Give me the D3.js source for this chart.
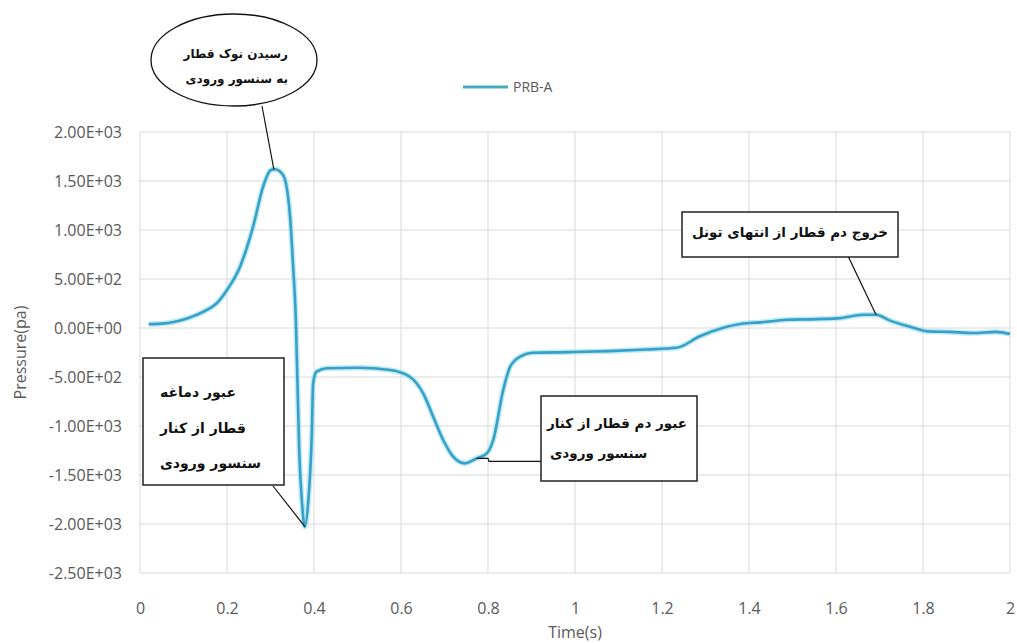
<!DOCTYPE html>
<html><head><meta charset="utf-8">
<script src="https://cdn.jsdelivr.net/npm/d3@7"></script>
<style>
html,body{margin:0;padding:0;background:#fff;}
svg{display:block;}
.tick-label{font-family:"Open Sans",sans-serif;font-size:16px;fill:#595959;}
.ann{font-family:"DejaVu Sans",sans-serif;font-weight:bold;fill:#111;}
</style></head>
<body>
<svg id="chart" width="1017" height="643"></svg>
<script>
const times = [0.02, 0.05, 0.08, 0.11, 0.146, 0.18, 0.2, 0.23, 0.26, 0.283, 0.3, 0.31, 0.329, 0.345, 0.352, 0.358, 0.362, 0.366, 0.372, 0.379, 0.387, 0.395, 0.398, 0.406, 0.43, 0.5, 0.575, 0.62, 0.651, 0.674, 0.697, 0.72, 0.747, 0.774, 0.797, 0.812, 0.835, 0.851, 0.876, 0.902, 0.99, 1.077, 1.164, 1.234, 1.287, 1.339, 1.383, 1.426, 1.487, 1.557, 1.61, 1.662, 1.692, 1.723, 1.767, 1.811, 1.863, 1.915, 1.968, 2.0];
const pressure = [40, 45, 64, 100, 166, 270, 388, 626, 1034, 1442, 1610, 1620, 1561, 1136, 626, 116, -564, -1245, -1755, -2027, -1755, -1075, -564, -446, -411, -405, -429, -497, -667, -905, -1143, -1313, -1381, -1330, -1279, -1143, -633, -395, -287, -253, -246, -236, -219, -202, -84, 0, 44, 57, 84, 91, 101, 135, 135, 78, 17, -34, -40, -51, -40, -61];
const seriesName = "PRB-A";
const xTicks = [0, 0.2, 0.4, 0.6, 0.8, 1, 1.2, 1.4, 1.6, 1.8, 2];
const xTickLabels = ["0", "0.2", "0.4", "0.6", "0.8", "1", "1.2", "1.4", "1.6", "1.8", "2"];
const yTicks = [2000, 1500, 1000, 500, 0, -500, -1000, -1500, -2000, -2500];
const yTickLabels = ["2.00E+03", "1.50E+03", "1.00E+03", "5.00E+02", "0.00E+00", "-5.00E+02", "-1.00E+03", "-1.50E+03", "-2.00E+03", "-2.50E+03"];
const xTitle = "Time(s)";
const yTitle = "Pressure(pa)";

const svg = d3.select("#chart");
const m = {l:140, r:7, t:132, b:70};
const W = 1017, H = 643;
const x = d3.scaleLinear().domain([0, 2]).range([m.l, W - m.r]);
const y = d3.scaleLinear().domain([-2500, 2000]).range([H - m.b, m.t]);

// grid
const grid = svg.append("g");
grid.selectAll("line.h").data(yTicks).join("line")
  .attr("x1", m.l).attr("x2", W - m.r)
  .attr("y1", d => y(d)).attr("y2", d => y(d))
  .attr("stroke", "#d9d9d9").attr("stroke-width", 1);
grid.selectAll("line.v").data(xTicks).join("line")
  .attr("y1", m.t).attr("y2", H - m.b)
  .attr("x1", d => x(d)).attr("x2", d => x(d))
  .attr("stroke", "#d9d9d9").attr("stroke-width", 1);

// axes (text only, via d3 axis)
const yAxis = d3.axisLeft(y).tickValues(yTicks).tickSize(0).tickPadding(18)
  .tickFormat((d, i) => yTickLabels[i]);
const gy = svg.append("g").attr("transform", `translate(${m.l},0)`).call(yAxis);
gy.select(".domain").remove();
gy.selectAll("text").attr("class", "tick-label").attr("fill", null);

const xAxis = d3.axisBottom(x).tickValues(xTicks).tickSize(0).tickPadding(30)
  .tickFormat((d, i) => xTickLabels[i]);
const gx = svg.append("g").attr("transform", `translate(0,${H - m.b})`).call(xAxis);
gx.select(".domain").remove();
gx.selectAll("text").attr("class", "tick-label").attr("fill", null);

svg.append("text").attr("class", "tick-label")
  .attr("x", (m.l + W - m.r) / 2).attr("y", 638).attr("text-anchor", "middle").text(xTitle);
svg.append("text").attr("class", "tick-label")
  .attr("transform", `translate(26,${(m.t + H - m.b) / 2}) rotate(-90)`)
  .attr("text-anchor", "middle").text(yTitle);

// series
const data = times.map((t, i) => ({t, v: pressure[i]}));
const line = d3.line().x(d => x(d.t)).y(d => y(d.v)).curve(d3.curveMonotoneX);
svg.append("path").datum(data).attr("d", line).attr("fill", "none")
  .attr("stroke", "#9fe3f5").attr("stroke-width", 5.5).attr("stroke-opacity", 0.7)
  .attr("stroke-linejoin", "round");
svg.append("path").datum(data).attr("d", line).attr("fill", "none")
  .attr("stroke", "#3a9fc4").attr("stroke-width", 2.6).attr("stroke-linejoin", "round");

// legend
svg.append("line").attr("x1", 463).attr("x2", 508).attr("y1", 87).attr("y2", 87)
  .attr("stroke", "#4aaabf").attr("stroke-width", 3);
svg.append("text").attr("class", "tick-label").attr("x", 513).attr("y", 92)
  .style("font-size", "14px").text(seriesName);

// annotations
const ann = svg.append("g");
function pt(i){ return [x(times[i]), y(pressure[i])]; }
const iPeak = pressure.indexOf(d3.max(pressure));
const iMin = pressure.indexOf(d3.min(pressure));
// ellipse callout
ann.append("line").attr("x1", 262).attr("y1", 106).attr("x2", pt(iPeak)[0] - 1).attr("y2", pt(iPeak)[1])
  .attr("stroke", "#111").attr("stroke-width", 1.2);
ann.append("ellipse").attr("cx", 234).attr("cy", 60).attr("rx", 83).attr("ry", 46)
  .attr("fill", "#fff").attr("stroke", "#111").attr("stroke-width", 1.3);
ann.append("text").attr("class", "ann").attr("x", 288).attr("y", 58).attr("text-anchor", "end")
  .style("font-size", "12px").text("رسیدن نوک قطار");
ann.append("text").attr("class", "ann").attr("x", 288).attr("y", 83).attr("text-anchor", "end")
  .style("font-size", "12px").text("به سنسور ورودی");

// box 1
ann.append("line").attr("x1", 273).attr("y1", 486).attr("x2", pt(iMin)[0]).attr("y2", pt(iMin)[1])
  .attr("stroke", "#111").attr("stroke-width", 1.2);
ann.append("rect").attr("x", 143).attr("y", 358).attr("width", 141).attr("height", 127)
  .attr("fill", "#fff").attr("stroke", "#222").attr("stroke-width", 1.5);
[["عبور دماغه", 397], ["قطار از کنار", 433], ["سنسور ورودی", 468]].forEach(([s, yy]) => {
  ann.append("text").attr("class", "ann").attr("x", 160).attr("y", yy)
    .style("font-size", "14px").text(s);
});

// box 2
const iTail = times.indexOf(0.774);
ann.append("polyline").attr("points", `${pt(iTail)[0]},${pt(iTail)[1]} ${x(0.8)},${pt(iTail)[1]} ${x(0.8)+1},${pt(iTail)[1]+3} 541,${pt(iTail)[1]+3}`)
  .attr("fill", "none").attr("stroke", "#111").attr("stroke-width", 1.2);
ann.append("rect").attr("x", 541).attr("y", 396).attr("width", 156).attr("height", 85)
  .attr("fill", "#fff").attr("stroke", "#222").attr("stroke-width", 1.5);
ann.append("text").attr("class", "ann").attr("x", 547).attr("y", 428)
  .style("font-size", "13.5px").text("عبور دم قطار از کنار");
ann.append("text").attr("class", "ann").attr("x", 550).attr("y", 458)
  .style("font-size", "13.5px").text("سنسور ورودی");

// box 3
const iExit = times.indexOf(1.692);
ann.append("line").attr("x1", 848).attr("y1", 256).attr("x2", pt(iExit)[0]).attr("y2", pt(iExit)[1])
  .attr("stroke", "#111").attr("stroke-width", 1.2);
ann.append("rect").attr("x", 682).attr("y", 212).attr("width", 216).attr("height", 45)
  .attr("fill", "#fff").attr("stroke", "#222").attr("stroke-width", 1.5);
ann.append("text").attr("class", "ann").attr("x", 790).attr("y", 237).attr("text-anchor", "middle")
  .style("font-size", "13.5px").text("خروج دم قطار از انتهای تونل");
</script>
</body></html>
